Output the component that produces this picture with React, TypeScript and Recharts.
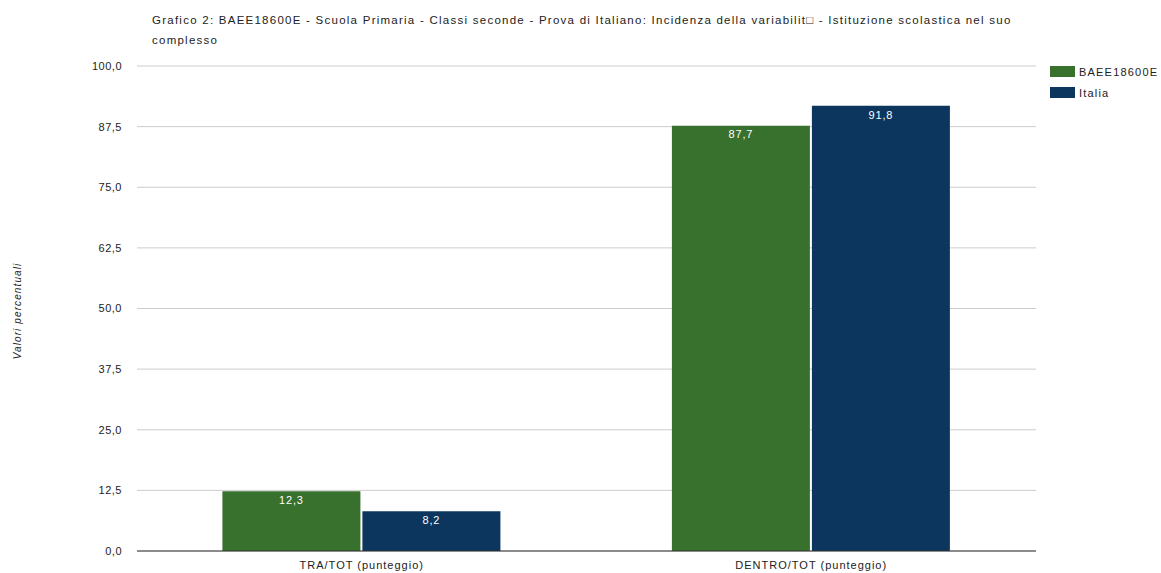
import { Bar, BarChart, CartesianGrid, LabelList, XAxis, YAxis } from "recharts";

const categories = ["TRA/TOT (punteggio)", "DENTRO/TOT (punteggio)"];
const schoolValues = [12.3, 87.7];
const italyValues = [8.2, 91.8];
const yTicks = [0, 12.5, 25, 37.5, 50, 62.5, 75, 87.5, 100];

const SCHOOL = "BAEE18600E";
const ITALY = "Italia";
const GREEN = "#38702e";
const BLUE = "#0d365e";
const FONT = "'Liberation Sans', Arial, sans-serif";

const data = categories.map((name, i) => ({
  name,
  [SCHOOL]: schoolValues[i],
  [ITALY]: italyValues[i],
}));

const fmt = (v: number) => v.toFixed(1).replace(".", ",");

const legendItems = [
  { name: SCHOOL, color: GREEN },
  { name: ITALY, color: BLUE },
];

export default function App() {
  return (
    <div style={{ position: "absolute", left: 0, top: 0, width: 1161, height: 573, background: "#fff" }}>
      <div
        style={{
          position: "absolute",
          left: 152,
          top: 10,
          fontFamily: FONT,
          fontSize: 11.5,
          letterSpacing: 1.25,
          lineHeight: "20px",
          color: "#222",
          whiteSpace: "nowrap",
        }}
      >
        Grafico 2: BAEE18600E - Scuola Primaria - Classi seconde - Prova di Italiano: Incidenza della variabilit□ - Istituzione scolastica nel suo
        <br />
        complesso
      </div>
      <div
        style={{
          position: "absolute",
          left: 17,
          top: 311,
          transform: "translate(-50%, -50%) rotate(-90deg)",
          fontFamily: FONT,
          fontSize: 10,
          letterSpacing: 1.1,
          fontStyle: "italic",
          color: "#222",
          whiteSpace: "nowrap",
        }}
      >
        Valori percentuali
      </div>
      <div style={{ position: "absolute", left: 1050, top: 61, fontFamily: FONT, fontSize: 11, letterSpacing: 1.2, color: "#222" }}>
        {legendItems.map((it) => (
          <div key={it.name} style={{ display: "flex", alignItems: "center", height: 21 }}>
            <span style={{ width: 25, height: 11, background: it.color, marginRight: 4 }} />
            {it.name}
          </div>
        ))}
      </div>
      <BarChart
        width={1161}
        height={573}
        data={data}
        margin={{ top: 66, right: 125, bottom: 0, left: 0 }}
        barCategoryGap="19%"
        barGap={2}
      >
        <CartesianGrid vertical={false} stroke="#cccccc" />
        <XAxis
          dataKey="name"
          height={22}
          tickLine={false}
          axisLine={{ stroke: "#333" }}
          tick={{ fontFamily: FONT, fontSize: 11, fill: "#222", letterSpacing: 1 }}
          tickMargin={4}
        />
        <YAxis
          width={137}
          domain={[0, 100]}
          ticks={yTicks}
          tickFormatter={fmt}
          axisLine={false}
          tickLine={false}
          tickSize={0}
          tickMargin={15}
          tick={{ fontFamily: FONT, fontSize: 11, fill: "#222", letterSpacing: 0.5 }}
        />
        <Bar dataKey={SCHOOL} fill={GREEN} isAnimationActive={false}>
          <LabelList dataKey={SCHOOL} position="insideTop" offset={5} formatter={(v: any) => fmt(Number(v))} fill="#fff" style={{ fontFamily: FONT, fontSize: 11, letterSpacing: 0.8 }} />
        </Bar>
        <Bar dataKey={ITALY} fill={BLUE} isAnimationActive={false}>
          <LabelList dataKey={ITALY} position="insideTop" offset={5} formatter={(v: any) => fmt(Number(v))} fill="#fff" style={{ fontFamily: FONT, fontSize: 11, letterSpacing: 0.8 }} />
        </Bar>
      </BarChart>
    </div>
  );
}
